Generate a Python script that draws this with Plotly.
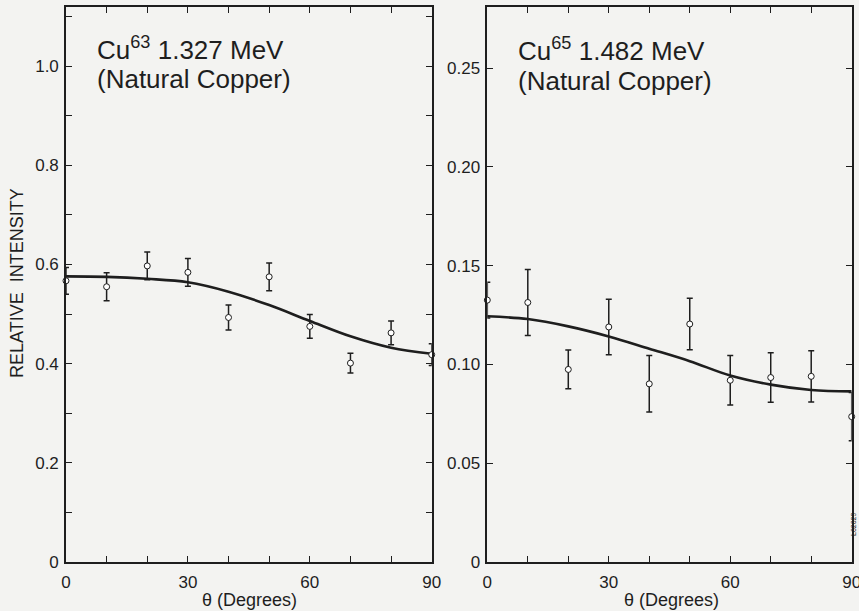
import plotly.graph_objects as go

# ---- data ----
theta = [0, 10, 20, 30, 40, 50, 60, 70, 80, 90]

cu63_int = [0.567, 0.555, 0.597, 0.584, 0.493, 0.575, 0.475, 0.401, 0.462, 0.418]
cu63_err = [0.027, 0.028, 0.028, 0.028, 0.025, 0.028, 0.024, 0.020, 0.024, 0.022]
cu63_fit = [0.576, 0.575, 0.571, 0.564, 0.545, 0.518, 0.486, 0.455, 0.432, 0.420]

cu65_int = [0.1326, 0.1314, 0.0975, 0.119, 0.0902, 0.1205, 0.092, 0.0934, 0.094, 0.0736]
cu65_err = [0.009, 0.0167, 0.0098, 0.014, 0.0143, 0.013, 0.0125, 0.0125, 0.013, 0.0122]
cu65_fit = [0.1244, 0.123, 0.1193, 0.1142, 0.108, 0.1017, 0.0944, 0.0898, 0.0871, 0.0864]

x_tickvals = [0, 30, 60, 90]
x_ticktext = ["0", "30", "60", "90"]
x_minorvals = [10, 20, 40, 50, 70, 80]
y1_tickvals = [0, 0.2, 0.4, 0.6, 0.8, 1.0]
y1_ticktext = ["0", "0.2", "0.4", "0.6", "0.8", "1.0"]
y1_minorvals = [0.1, 0.3, 0.5, 0.7, 0.9, 1.1]
y2_tickvals = [0, 0.05, 0.10, 0.15, 0.20, 0.25]
y2_ticktext = ["0", "0.05", "0.10", "0.15", "0.20", "0.25"]

INK = "#1e1e1e"
BG = "#f3f3f1"
FONT = "Liberation Sans"

fig = go.Figure()

for xa, ya, vals, errs, fit in [("x", "y", cu63_int, cu63_err, cu63_fit),
                                ("x2", "y2", cu65_int, cu65_err, cu65_fit)]:
    fig.add_trace(go.Scatter(
        x=theta, y=fit, xaxis=xa, yaxis=ya, mode="lines",
        line=dict(color=INK, width=2.6, shape="spline", smoothing=1.0),
        showlegend=False, hoverinfo="skip", cliponaxis=False))
    fig.add_trace(go.Scatter(
        x=theta, y=vals, xaxis=xa, yaxis=ya, mode="markers",
        marker=dict(symbol="circle", size=6, color="white",
                    line=dict(color=INK, width=1)),
        error_y=dict(type="data", array=errs, visible=True,
                     color=INK, thickness=1.5, width=3),
        showlegend=False, cliponaxis=False))

axis_common = dict(showline=True, linecolor=INK, linewidth=1.5, mirror="ticks",
                   ticks="inside", ticklen=6, tickwidth=1.2, tickcolor=INK,
                   showgrid=False, zeroline=False, automargin=False,
                   ticklabeloverflow="allow",
                   tickfont=dict(family=FONT, size=17, color=INK))
minor_common = dict(ticks="inside", ticklen=6, tickwidth=1.2, tickcolor=INK,
                    showgrid=False)

fig.update_layout(
    width=859, height=611,
    margin=dict(l=0, r=0, t=0, b=0, autoexpand=False),
    paper_bgcolor=BG, plot_bgcolor=BG,
    xaxis=dict(domain=[0.0768, 0.5026], range=[0, 90], anchor="y",
               tickvals=x_tickvals, ticktext=x_ticktext, ticklabelstandoff=4,
               minor=dict(tickvals=x_minorvals, **minor_common),
               **axis_common),
    yaxis=dict(domain=[0.0802, 0.9885], range=[0, 1.119], anchor="x",
               tickvals=y1_tickvals, ticktext=y1_ticktext, ticklabelstandoff=2,
               minor=dict(tickvals=y1_minorvals, **minor_common),
               **axis_common),
    xaxis2=dict(domain=[0.5673, 0.9915], range=[0, 90], anchor="y2",
                tickvals=x_tickvals, ticktext=x_ticktext, ticklabelstandoff=4,
                minor=dict(tickvals=x_minorvals, **minor_common),
                **axis_common),
    yaxis2=dict(domain=[0.0802, 0.9885], range=[0, 0.281], anchor="x2",
                tickvals=y2_tickvals, ticktext=y2_ticktext, ticklabelstandoff=2,
                **axis_common),
)

def ann(text, x, y, size, xanchor="left", yanchor="middle", angle=0):
    fig.add_annotation(text=text, xref="paper", yref="paper", x=x, y=y,
                       xanchor=xanchor, yanchor=yanchor, showarrow=False,
                       textangle=angle,
                       font=dict(family=FONT, size=size, color=INK))

H = 611.0
W = 859.0
ann("Cu<sup>63</sup> 1.327 MeV", 95 / W, 1 - 48 / H, 26)
ann("(Natural Copper)", 95 / W, 1 - 79 / H, 26)
ann("Cu<sup>65</sup> 1.482 MeV", 516 / W, 1 - 50 / H, 26)
ann("(Natural Copper)", 516 / W, 1 - 81 / H, 26)
ann("RELATIVE  INTENSITY", 17 / W, 1 - 283 / H, 18, xanchor="center", angle=-90)
ann("θ (Degrees)", 249 / W, 1 - 600 / H, 18, xanchor="center")
ann("θ (Degrees)", 671 / W, 1 - 600 / H, 18, xanchor="center")
ann("L62029", 853 / W, 1 - 525 / H, 7, xanchor="center", angle=-90)

fig.write_html(
    "out.html",
    config={"displayModeBar": False},
    post_script="document.body.style.margin='0';document.body.style.padding='0';"
                "document.body.style.overflow='hidden';",
)
